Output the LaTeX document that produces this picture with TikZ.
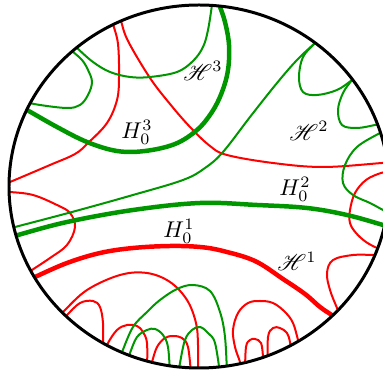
\documentclass[tikz,border=0pt]{standalone}
\usepackage{mathrsfs}
\definecolor{dgreen}{RGB}{0,150,0}
\newcommand{\mylbl}[1]{\scalebox{1.22}{$#1$}}
\tikzset{
  thinred/.style={draw=red, line width=1.07pt},
  thickred/.style={draw=red, line width=2.4pt},
  thingreen/.style={draw=dgreen, line width=1.07pt},
  thickgreen/.style={draw=dgreen, line width=2.4pt},
  rim/.style={draw=black, line width=1.6pt},
  lab/.style={font=\normalsize, inner sep=0pt}
}
\begin{document}
\begin{tikzpicture}[x=0.535pt, y=-0.535pt]
\useasboundingbox (0,0) rectangle (383,371);
\begin{scope}
\clip (199,186.5) ellipse [x radius=190, y radius=181.5];
% red curves
\draw[thinred] plot[smooth, tension=0.6] coordinates {(111,15) (113,24) (118,44) (119,77) (117,100) (107,123) (88,143) (75,154) (50,165) (10,182) (2,185)};
\draw[thinred] plot[smooth, tension=0.6] coordinates {(118,12) (121,21) (128,41) (150,78) (170,104) (190,127) (210,146) (227,155) (273,163) (323,167) (382,163) (395,162)};
\draw[thinred] plot[smooth, tension=0.6] coordinates {(2,192) (10,192) (33,195) (57,205) (70,213) (75,227) (67,245) (50,258) (32,270) (25,275)};
\draw[thickred] plot[smooth, tension=0.6] coordinates {(27,281) (35,277) (67,263) (100,253) (133,248) (170,246) (200,247) (223,251) (255,261) (283,279) (305,294) (320,307) (333,316) (339,322)};
\draw[thinred] plot[smooth, tension=0.6] coordinates {(382,255) (373,255) (353,255) (333,260) (327,273) (330,290) (337,308) (340,315)};
\draw[thinred] plot[smooth, tension=0.6] coordinates {(393,171) (381,173) (366,180) (355,193) (350,210) (350,223) (356,233) (366,242) (377,248) (384,251)};
\draw[thinred] plot[smooth, tension=0.6] coordinates {(57,318) (63,312) (87,290) (120,275) (147,273) (170,282) (187,300) (196,323) (198,345) (198,376)};
\draw[thinred] plot[smooth, tension=0.6] coordinates {(62,320) (67,315) (80,303) (93,301) (100,307) (103,323) (103,342) (103,352)};
\draw[thinred] plot[smooth, tension=0.6] coordinates {(105,352) (108,343) (117,330) (127,325) (137,326) (143,332) (147,343) (147,368)};
\draw[thinred] plot[smooth, tension=0.6] coordinates {(150,369) (152,362) (157,347) (165,338) (173,336) (182,338) (188,347) (191,374)};
\draw[thinred] plot[smooth, tension=0.6] coordinates {(242,372) (240,362) (235,347) (233,330) (238,313) (248,303) (260,301) (273,303) (285,312) (293,323) (298,340) (300,348)};
\draw[thinred] plot[smooth, tension=0.6] coordinates {(245,372) (246,347) (250,340) (255,339) (261,343) (263,357) (263,368)};
\draw[thinred] plot[smooth, tension=0.6] coordinates {(268,364) (268,337) (273,328) (280,328) (287,333) (290,342) (291,352)};
% green curves
\draw[thingreen] plot[smooth, tension=0.6] coordinates {(73,44) (77,48) (93,62) (110,72) (130,77) (150,77) (177,72) (193,61) (203,47) (208,30) (212,5) (213,-3)};
\draw[thingreen] plot[smooth, tension=0.6] coordinates {(25,102) (40,105) (67,108) (80,105) (88,95) (92,82) (88,70) (82,60) (72,51) (67,46)};
\draw[thickgreen] plot[smooth, tension=0.6] coordinates {(21,107) (27,110) (57,127) (87,142) (117,151) (145,151) (175,144) (197,130) (212,112) (222,92) (228,70) (229,45) (225,22) (219,4) (217,-3)};
\draw[thingreen] plot[smooth, tension=0.6] coordinates {(7,229) (15,227) (72,212) (133,195) (183,180) (205,168) (223,152) (250,117) (277,83) (297,60) (315,43) (321,37)};
\draw[thingreen] plot[smooth, tension=0.6] coordinates {(319,37) (315,43) (303,57) (299,77) (303,92) (317,95) (337,90) (352,80) (358,75)};
\draw[thingreen] plot[smooth, tension=0.6] coordinates {(357,74) (352,80) (343,93) (338,110) (342,125) (357,128) (375,125) (384,123)};
\draw[thingreen] plot[smooth, tension=0.6] coordinates {(387,130) (380,133) (357,147) (345,165) (343,183) (353,195) (370,203) (383,210) (393,215)};
\draw[thickgreen] plot[smooth, tension=0.6] coordinates {(9,238) (18,235) (67,222) (133,210) (200,203) (257,205) (307,208) (347,215) (383,225) (393,228)};
\draw[thingreen] plot[smooth, tension=0.6] coordinates {(119,359) (122,352) (133,327) (147,312) (160,300) (177,289) (193,285) (210,291) (220,312) (225,337) (227,374)};
\draw[thingreen] plot[smooth, tension=0.6] coordinates {(128,359) (130,353) (137,337) (147,330) (155,329) (163,335) (168,347) (170,374)};
\draw[thingreen] plot[smooth, tension=0.6] coordinates {(179,371) (180,363) (185,340) (192,330) (200,327) (208,333) (215,343) (220,374)};
\end{scope}
\draw[rim] (199,186.5) ellipse [x radius=190, y radius=181.5];
% labels
\node[lab] (s3) at (203,71) {\mylbl{\mathscr{H}^3}};
\node[lab] (h3) at (137,132) {\mylbl{H_0^3}};
\node[lab] (s2) at (309,131) {\mylbl{\mathscr{H}^2}};
\node[lab] (h2) at (295,189) {\mylbl{H_0^2}};
\node[lab] (h1) at (179,231) {\mylbl{H_0^1}};
\node[lab] (s1) at (297,261) {\mylbl{\mathscr{H}^1}};
\end{tikzpicture}
\end{document}
